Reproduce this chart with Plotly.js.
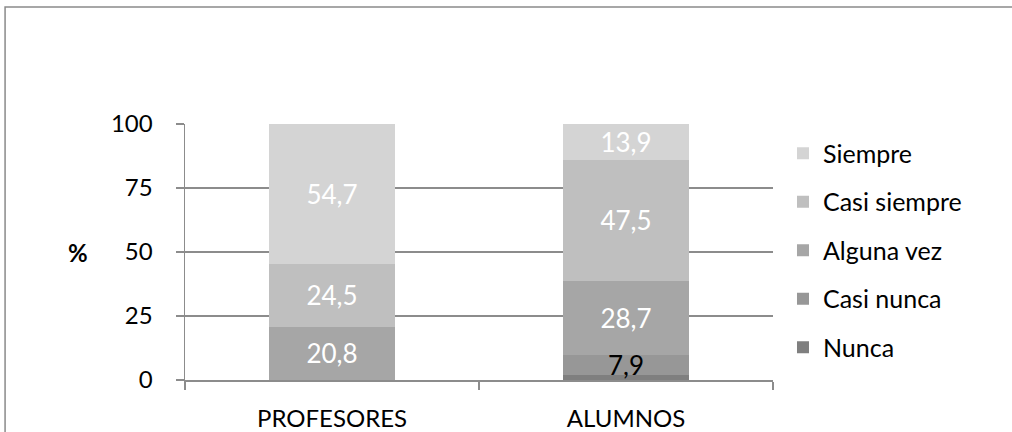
<!DOCTYPE html>
<html>
<head>
<meta charset="utf-8">
<script src="https://cdn.plot.ly/plotly-3.0.1.min.js"></script>
<style>html,body{margin:0;padding:0;background:#fff;}#chart{width:1012px;height:432px;}</style>
</head>
<body>
<div id="chart"></div>
<script>
var categories = ['PROFESORES', 'ALUMNOS'];
var seriesNames = ['Nunca', 'Casi nunca', 'Alguna vez', 'Casi siempre', 'Siempre'];
var nunca = [0, 2.0];
var casiNunca = [0, 7.9];
var algunaVez = [20.8, 28.7];
var casiSiempre = [24.5, 47.5];
var siempre = [54.7, 13.9];
var yTicks = [0, 25, 50, 75, 100];

var values = [nunca, casiNunca, algunaVez, casiSiempre, siempre];
var colors = ['#7f7f7f', '#979797', '#a6a6a6', '#bfbfbf', '#d4d4d4'];
var textColors = ['#000000', '#000000', '#ffffff', '#ffffff', '#ffffff'];
var showLabel = [false, true, true, true, true];

function fmt(v) { return v.toFixed(1).replace('.', ','); }

var FONT = 'Lato, sans-serif';

var traces = seriesNames.map(function (name, i) {
  return {
    type: 'bar',
    name: name,
    x: categories,
    y: values[i],
    text: values[i].map(function (v) { return (showLabel[i] && v > 0) ? fmt(v) : ''; }),
    texttemplate: '%{text}',
    textposition: 'inside',
    insidetextanchor: 'middle',
    constraintext: 'none',
    cliponaxis: false,
    textfont: { family: FONT, size: 26, color: textColors[i] },
    marker: { color: colors[i], line: { width: 0 } },
    legendgroup: 'g' + i,
    legendrank: (seriesNames.length - i) * 100,
    hoverinfo: 'none'
  };
});

var layout = {
  width: 1012,
  height: 432,
  barmode: 'stack',
  bargap: 0.57,
  separators: ',.',
  paper_bgcolor: '#ffffff',
  plot_bgcolor: '#ffffff',
  margin: { l: 185, r: 239, t: 124, b: 52 },
  font: { family: FONT, size: 24, color: '#000000' },
  showlegend: true,
  legend: {
    x: 1.017, y: 0.975, xanchor: 'left', yanchor: 'top',
    traceorder: 'grouped',
    tracegroupgap: 13,
    font: { family: FONT, size: 25, color: '#000000' },
    itemwidth: 30
  },
  xaxis: {
    type: 'category',
    showline: true, linecolor: '#8c8c8c', linewidth: 1.5,
    ticks: 'outside', tickson: 'boundaries', ticklen: 8, tickcolor: '#8c8c8c', tickwidth: 1.5,
    showgrid: false, zeroline: false,
    ticklabelstandoff: 17,
    tickfont: { family: FONT, size: 24, color: '#000000' }
  },
  yaxis: {
    range: [0, 100],
    tickvals: yTicks,
    ticktext: yTicks.map(String),
    showline: true, linecolor: '#8c8c8c', linewidth: 1.5,
    ticks: 'outside', ticklen: 8, tickcolor: '#8c8c8c', tickwidth: 1.5,
    showgrid: true, gridcolor: '#8c8c8c', gridwidth: 1.5,
    zeroline: false,
    ticklabelstandoff: 18,
    tickfont: { family: FONT, size: 24, color: '#000000' }
  },
  annotations: [{
    text: '<b>%</b>', xref: 'paper', yref: 'paper',
    x: (78 - 185) / 588, y: 0.5, xanchor: 'center', yanchor: 'middle',
    showarrow: false, font: { family: FONT, size: 24, color: '#000000' }
  }],
  shapes: [{
    type: 'rect', xref: 'paper', yref: 'paper',
    x0: -0.306, x1: 1.8, y0: -0.4, y1: 1.457,
    line: { color: '#8a8a8a', width: 1.5 }, fillcolor: 'rgba(0,0,0,0)', layer: 'below'
  }]
};

Plotly.newPlot('chart', traces, layout, { displayModeBar: false, staticPlot: true });
</script>
</body>
</html>
